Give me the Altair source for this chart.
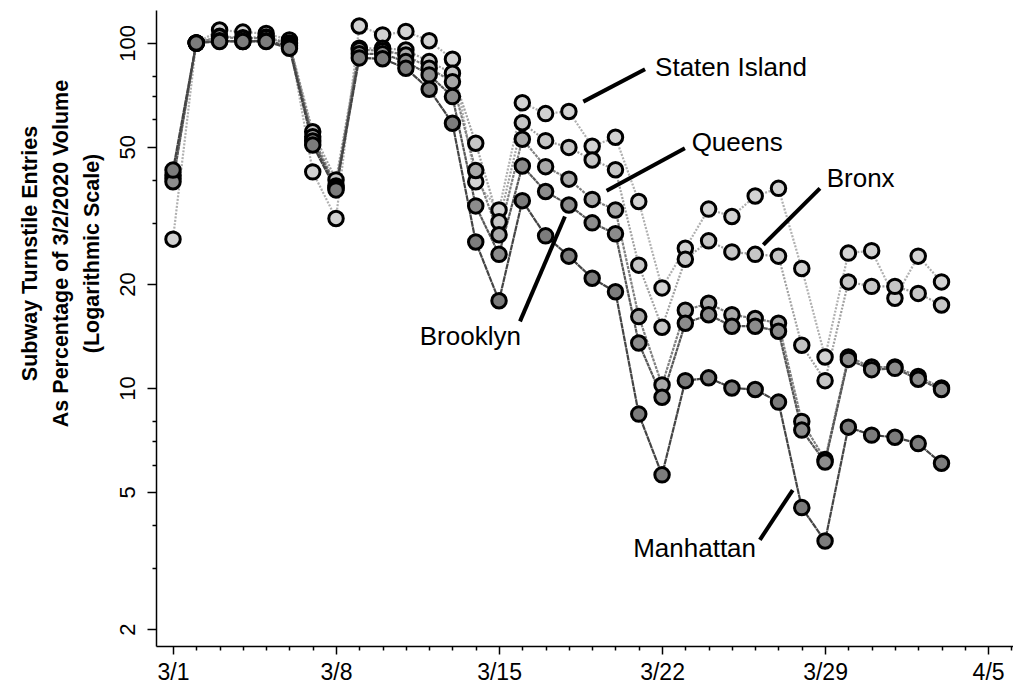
import altair as alt
import pandas as pd

# ---------------- data ----------------
START = "2020-03-01"
DATES = pd.date_range("2020-03-01", "2020-04-03", freq="D")

SERIES = ["Staten Island", "Bronx", "Queens", "Brooklyn", "Manhattan"]

staten_island = [27.0, 100, 109, 107.5, 106.5, 102, 42.3, 31.0, 112, 105.5, 108, 101.5,
                 89.7, 39.6, 32.8, 67.1, 62.4, 63.3, 50.2, 53.3, 34.7, 19.5, 25.4, 33.0,
                 31.4, 36.0, 37.9, 22.2, 12.3, 24.6, 25.0, 18.2, 24.1, 20.3]
bronx = [41.4, 100, 104.5, 103.5, 104, 100, 55.3, 40.1, 96.5, 96.5, 95.4, 88.3,
         81.7, 51.2, 30.3, 58.7, 52.1, 49.8, 45.8, 42.9, 22.7, 15.0, 23.6, 26.7,
         24.8, 24.4, 24.1, 13.3, 10.5, 20.3, 19.7, 19.7, 18.8, 17.4]
queens = [40.5, 100, 104, 103, 103.5, 99.5, 53.5, 38.5, 95.5, 95, 92.3, 84.5,
          77.2, 42.7, 27.8, 52.6, 43.8, 40.3, 35.2, 32.8, 16.1, 10.2, 16.8, 17.6,
          16.3, 15.9, 15.4, 8.0, 6.2, 12.3, 11.5, 11.5, 10.8, 10.0]
brooklyn = [39.6, 100, 101.5, 101, 101.5, 98, 52.0, 38.0, 93, 93, 88.3, 80.8,
            69.9, 33.7, 24.4, 44.0, 37.1, 33.9, 30.1, 28.0, 13.5, 9.4, 15.4, 16.3,
            15.1, 15.1, 14.6, 7.55, 6.1, 12.1, 11.3, 11.4, 10.6, 9.9]
manhattan = [42.8, 100, 101, 101, 101, 96.5, 50.6, 37.5, 90.5, 90, 84.5, 73.4,
             58.5, 26.5, 17.9, 34.9, 27.6, 24.1, 20.8, 19.0, 8.4, 5.6, 10.5, 10.7,
             10.0, 9.9, 9.1, 4.5, 3.6, 7.7, 7.3, 7.2, 6.9, 6.05]

VALUES = [staten_island, bronx, queens, brooklyn, manhattan]

X_TICK_DATES = ["2020-03-01", "2020-03-08", "2020-03-15", "2020-03-22", "2020-03-29", "2020-04-05"]
X_TICK_LABELS = ["3/1", "3/8", "3/15", "3/22", "3/29", "4/5"]
Y_MAJOR = [2, 5, 10, 20, 50, 100]
Y_MINOR = [3, 4, 6, 7, 8, 30, 40, 60, 70, 80]

Y_TITLE = ["Subway Turnstile Entries", "As Percentage of 3/2/2020 Volume", "(Logarithmic Scale)"]

# annotation labels (data coordinates: day offset from 3/1, percentage)
ANN_TEXT = ["Staten Island", "Queens", "Bronx", "Manhattan", "Brooklyn"]
ANN_X = [20.70, 22.27, 28.07, 19.76, 14.94]
ANN_Y = [80.3, 48.6, 38.3, 3.24, 13.3]
ANN_ALIGN = ["left", "left", "left", "left", "right"]
# pointer segments
SEG_X = [17.62, 18.62, 25.35, 25.20, 16.83]
SEG_Y = [67.6, 37.3, 26.0, 3.63, 31.4]
SEG_X2 = [20.27, 21.98, 27.78, 26.61, 14.90]
SEG_Y2 = [83.9, 49.5, 37.9, 5.06, 15.6]

# ---------------- build tables ----------------
start = pd.Timestamp(START)
days = [(d - start).days for d in DATES]
rows = []
for name, vals in zip(SERIES, VALUES):
    for d, v in zip(days, vals):
        rows.append({"series": name, "day": d, "value": v})
df = pd.DataFrame(rows)

ann = pd.DataFrame({"text": ANN_TEXT, "x": ANN_X, "y": ANN_Y, "align": ANN_ALIGN})
seg = pd.DataFrame({"x": SEG_X, "y": SEG_Y, "x2": SEG_X2, "y2": SEG_Y2})

tick_days = [(pd.Timestamp(t) - start).days for t in X_TICK_DATES]
x_label_expr = "''"
for dday, lab in reversed(list(zip(tick_days, X_TICK_LABELS))):
    x_label_expr = f"datum.value === {dday} ? '{lab}' : ({x_label_expr})"

y_major_test = "indexof([" + ",".join(str(v) for v in Y_MAJOR) + "], datum.value) >= 0"

FONT = "Liberation Sans"

x_scale = alt.Scale(domain=[-0.73, 36.07], nice=False, zero=False)
y_scale = alt.Scale(type="log", domain=[1.787, 124.6], nice=False, clamp=False)

x_axis = alt.Axis(
    values=list(range(0, 37)),
    labelExpr=x_label_expr,
    tickSize={"condition": {"test": "datum.value % 7 === 0", "value": 8}, "value": 4},
    labelFontSize=23, labelFont=FONT, labelColor="black", labelPadding=7,
    labelAngle=0, labelOverlap=False, labelFlush=False,
    domainColor="black", domainWidth=1.5, tickColor="black", tickWidth=1.5,
    grid=False, title=None,
)
y_axis = alt.Axis(
    values=sorted(Y_MAJOR + Y_MINOR),
    labelExpr=f"{y_major_test} ? format(datum.value, 'd') : ''",
    tickSize={"condition": {"test": y_major_test, "value": 9}, "value": 4},
    labelAngle=270, labelAlign="center", labelBaseline="bottom",
    labelFontSize=22, labelFont=FONT, labelColor="black", labelPadding=8,
    labelOverlap=False, labelFlush=False,
    domainColor="black", domainWidth=1.5, tickColor="black", tickWidth=1.5,
    grid=False,
    title=Y_TITLE, titleFont=FONT, titleFontSize=21.5, titleFontWeight="bold",
    titleColor="black", titleAngle=270, titleAlign="center", titleBaseline="top",
    titleLineHeight=31, titleX=-137, titleY=243,
)

LINE_COLORS = ["#b0b0b0", "#a0a0a0", "#808080", "#585858", "#444444"]
LINE_DASH = [[2, 1.5], [2, 1.5], [3, 1], [4, 0.5], [6, 0.5]]
FILL_COLORS = ["#d2d2d2", "#c6c6c6", "#a8a8a8", "#8c8c8c", "#7c7c7c"]

base = alt.Chart(df)
lines = base.mark_line(strokeWidth=2.2).encode(
    x=alt.X("day:Q", scale=x_scale, axis=x_axis),
    y=alt.Y("value:Q", scale=y_scale, axis=y_axis),
    color=alt.Color("series:N", scale=alt.Scale(domain=SERIES, range=LINE_COLORS), legend=None),
    strokeDash=alt.StrokeDash("series:N", scale=alt.Scale(domain=SERIES, range=LINE_DASH), legend=None),
)
points = base.mark_point(shape="circle", filled=True, size=210, stroke="black",
                         strokeWidth=3, opacity=1).encode(
    x=alt.X("day:Q", scale=x_scale, axis=x_axis),
    y=alt.Y("value:Q", scale=y_scale, axis=y_axis),
    fill=alt.Fill("series:N", scale=alt.Scale(domain=SERIES, range=FILL_COLORS), legend=None),
)

rules = alt.Chart(seg).mark_rule(color="black", strokeWidth=4, strokeCap="butt").encode(
    x=alt.X("x:Q", scale=x_scale, axis=x_axis),
    y=alt.Y("y:Q", scale=y_scale, axis=y_axis),
    x2="x2:Q", y2="y2:Q",
)

texts_left = alt.Chart(ann).transform_filter("datum.align == 'left'").mark_text(
    align="left", baseline="alphabetic", font=FONT, fontSize=26, color="black"
).encode(
    x=alt.X("x:Q", scale=x_scale, axis=x_axis),
    y=alt.Y("y:Q", scale=y_scale, axis=y_axis),
    text="text:N",
)
texts_right = alt.Chart(ann).transform_filter("datum.align == 'right'").mark_text(
    align="right", baseline="alphabetic", font=FONT, fontSize=26, color="black"
).encode(
    x=alt.X("x:Q", scale=x_scale, axis=x_axis),
    y=alt.Y("y:Q", scale=y_scale, axis=y_axis),
    text="text:N",
)

chart = alt.layer(lines, points, rules, texts_left, texts_right).properties(
    width=857, height=636,
    autosize=alt.AutoSizeParams(type="none"),
    padding={"left": 148, "top": 2, "right": 0, "bottom": 38},
    background="white",
).configure_view(stroke=None)

chart.save("out.html", embed_options={"renderer": "svg", "actions": False})
